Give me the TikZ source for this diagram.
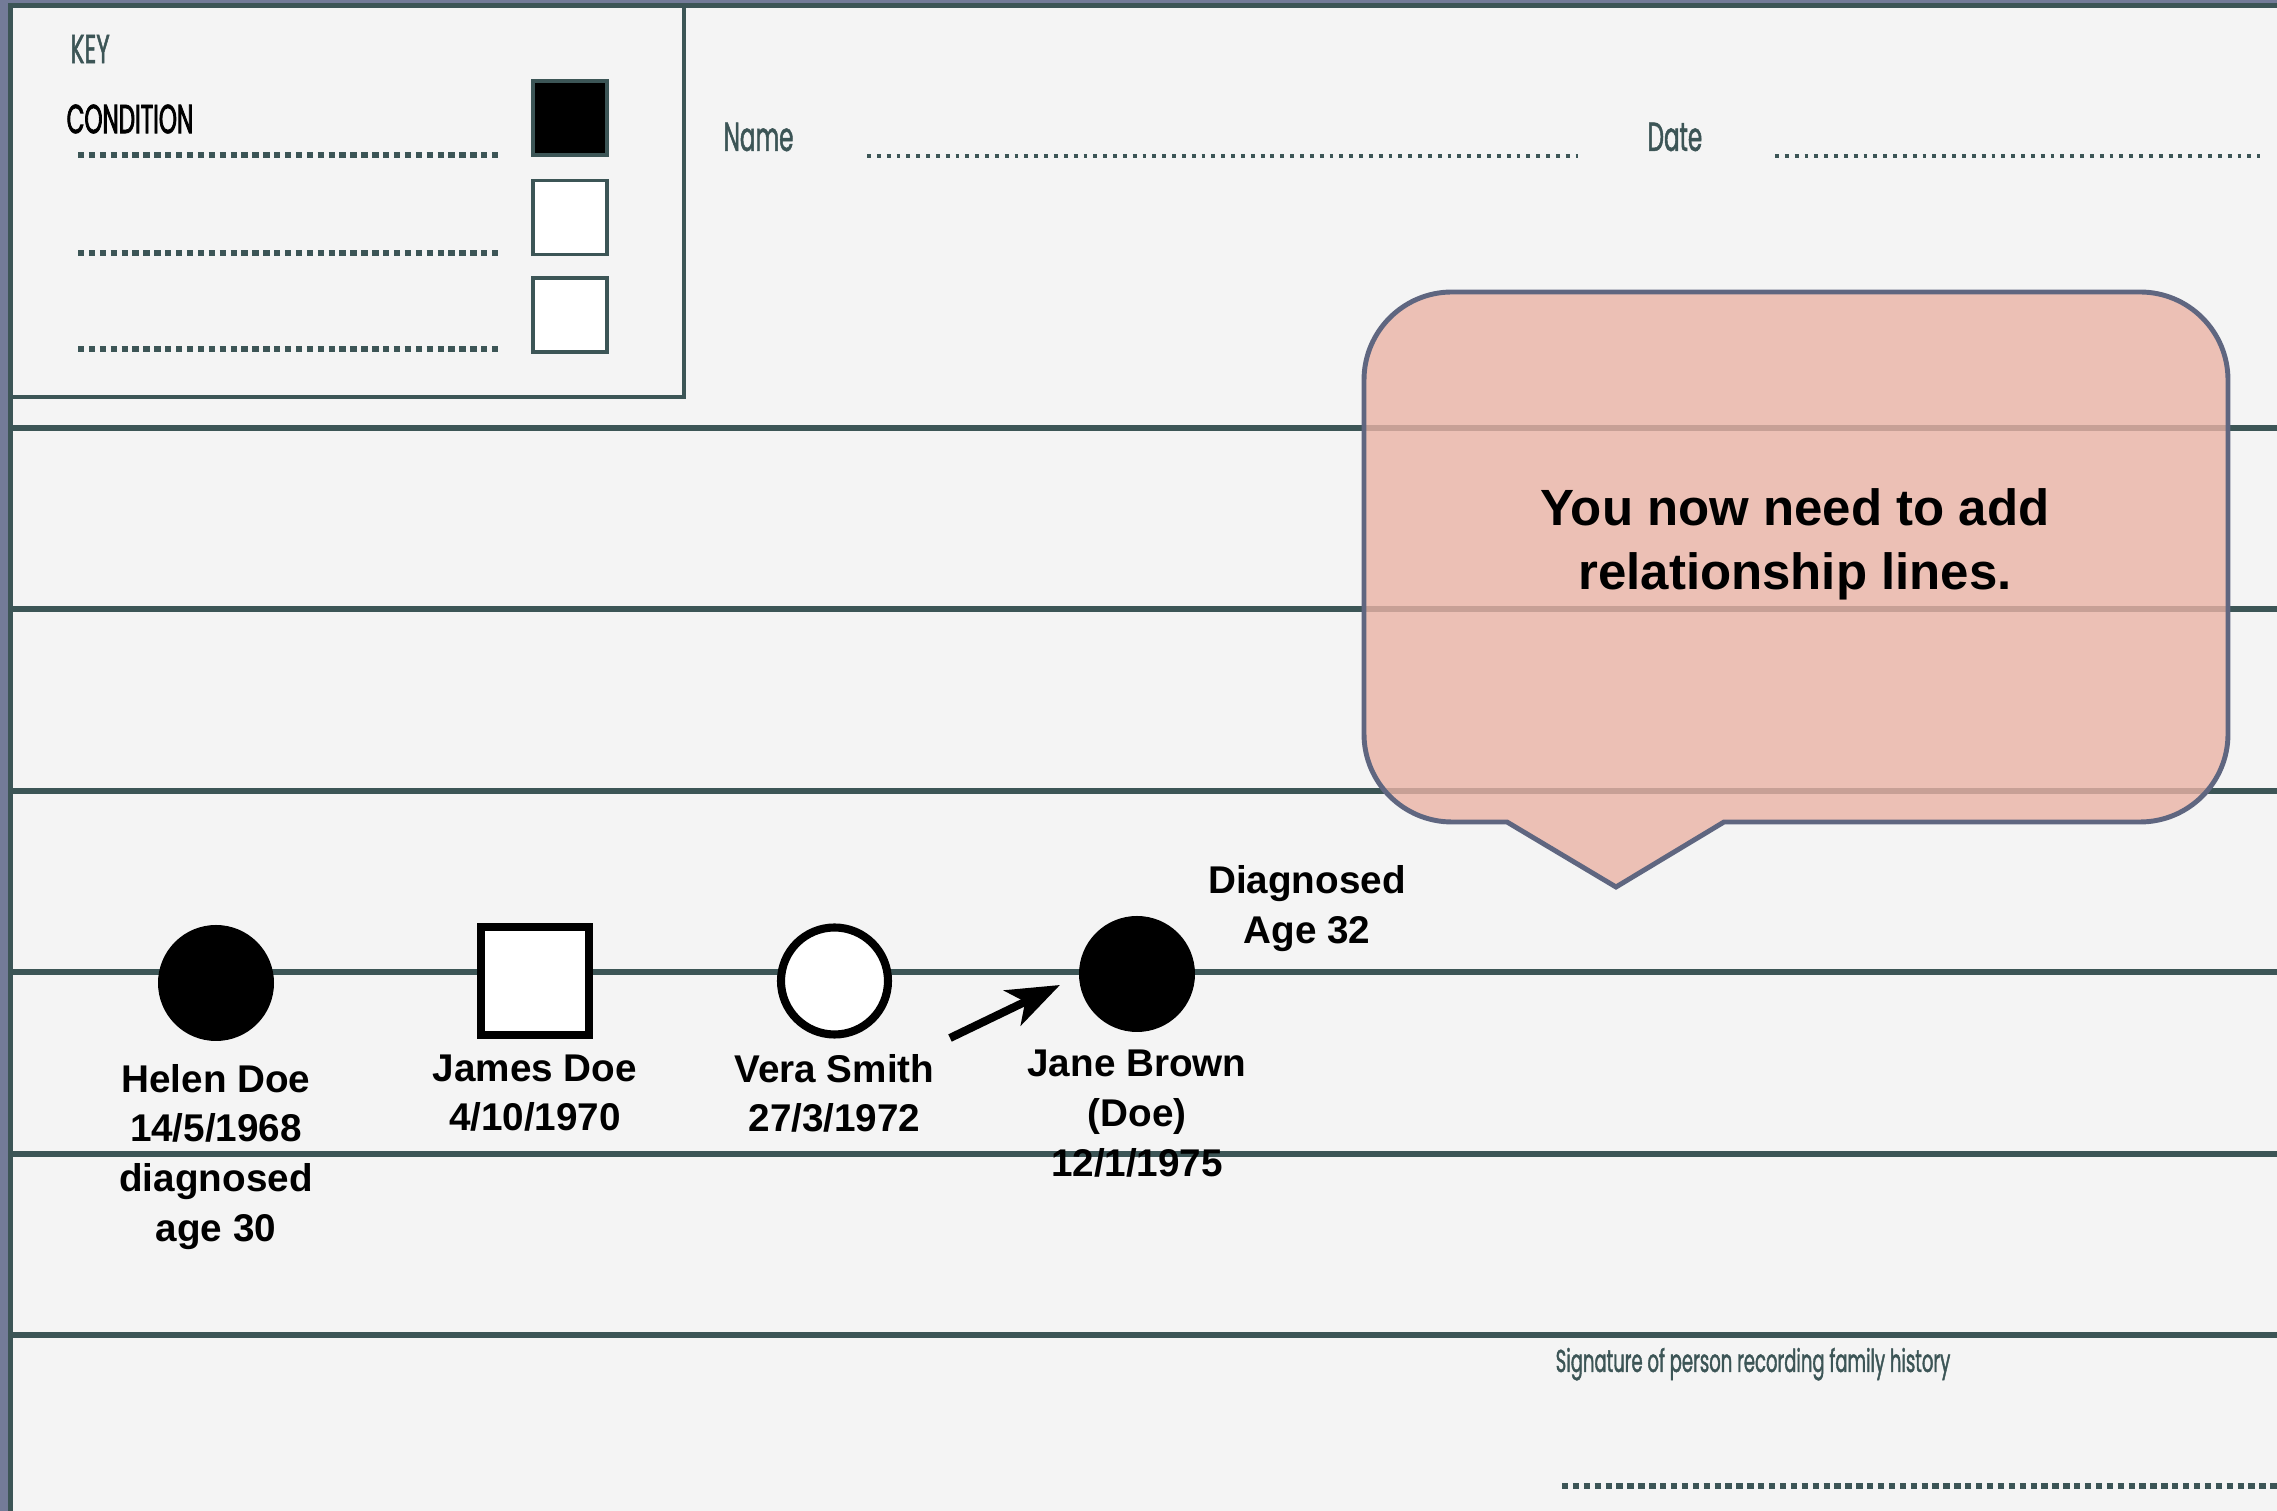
\documentclass[tikz,border=0pt]{standalone}
\usepackage{fontspec}
\setmainfont{Liberation Sans}
\newfontfamily\formfont[FakeStretch=0.57, FakeBold=1.2]{Poppins}
\newfontfamily\condfont[FakeStretch=0.57, FakeBold=2]{Poppins}
\usetikzlibrary{arrows.meta, positioning}

\definecolor{pagebg}{HTML}{F4F4F4}
\definecolor{formteal}{HTML}{3C5556}
\definecolor{edgeblue}{HTML}{737B98}
\definecolor{calloutfill}{HTML}{EAB3A6}
\definecolor{calloutline}{HTML}{5F6680}

\begin{document}
\begin{tikzpicture}[
    ruleline/.style={draw=formteal, line width=1.6pt},
    dotrule/.style={draw=formteal, line width=1.5pt, dash pattern=on 1.8pt off 1.3pt},
    formtext/.style={font=\formfont\fontsize{11.5}{13}\selectfont, text=formteal, inner sep=0pt},
    keysq/.style={rectangle, draw=formteal, line width=1pt, fill=white, minimum size=0.74cm},
    affected/.style={circle, fill=black, minimum size=1.16cm, inner sep=0pt},
    unaffected/.style={circle, draw=black, line width=2.3pt, fill=white, minimum size=1.07cm, inner sep=0pt},
    malebox/.style={rectangle, draw=black, line width=2.3pt, fill=white, minimum size=1.08cm, inner sep=0pt},
    lab/.style={font=\bfseries\fontsize{11}{14.1}\selectfont, align=center, inner sep=0pt},
]
\useasboundingbox (0,0) rectangle (22.77,-15.11);
\fill[pagebg] (0,0) rectangle (22.77,-15.11);

% --- Ruled lines ---
\foreach \y in {4.28, 6.09, 7.91, 9.72, 11.54, 13.35}
    \draw[ruleline] (0.1,-\y) -- (22.77,-\y);

% --- Key box ---
\draw[formteal, line width=1pt] (0.1,-0.05) rectangle (6.84,-3.97);
\node[formtext, anchor=west] (keytitle) at (0.70,-0.49) {KEY};
\node[formtext, font=\condfont\fontsize{11.5}{13}\selectfont, text=black, anchor=west] (condition) at (0.66,-1.19) {CONDITION};
\node[keysq, fill=black] (keyone) at (5.70,-1.18) {};
\node[keysq] (keytwo) at (5.70,-2.175) {};
\node[keysq] (keythree) at (5.70,-3.15) {};
\foreach \y in {1.55, 2.53, 3.49}
    \draw[dotrule] (0.78,-\y) -- (5.01,-\y);

% --- Name and date ---
\node[formtext, anchor=west] (namelab) at (7.23,-1.37) {Name};
\draw[dotrule, line width=1.2pt, dash pattern=on 1.1pt off 1.7pt] (8.67,-1.56) -- (15.78,-1.56);
\node[formtext, anchor=west] (datelab) at (16.47,-1.37) {Date};
\draw[dotrule, line width=1.2pt, dash pattern=on 1.1pt off 1.7pt] (17.75,-1.56) -- (22.60,-1.56);

% --- Callout ---
\path[draw=calloutline, line width=1.4pt, fill=calloutfill, fill opacity=0.8]
    (17.24,-8.22) -- (21.40,-8.22) arc[start angle=270, end angle=360, radius=0.88]
    -- (22.28,-3.80) arc[start angle=0, end angle=90, radius=0.88]
    -- (14.52,-2.92) arc[start angle=90, end angle=180, radius=0.88]
    -- (13.64,-7.34) arc[start angle=180, end angle=270, radius=0.88]
    -- (15.07,-8.22) -- (16.16,-8.87) -- cycle;
\node[lab, font=\bfseries\fontsize{14.5}{18.2}\selectfont] (hint) at (17.95,-5.44)
    {You now need to add\\relationship lines.};

% --- Family members ---
\node[affected] (helen) at (2.16,-9.83) {};
\node[malebox] (james) at (5.35,-9.81) {};
\node[unaffected] (vera) at (8.345,-9.81) {};
\node[affected] (jane) at (11.37,-9.74) {};

\node[lab, below=0.22cm of helen] (helenlab) {Helen Doe\\14/5/1968\\diagnosed\\age 30};
\node[lab, below=0.15cm of james] (jameslab) {James Doe\\4/10/1970};
\node[lab, below=0.15cm of vera] (veralab) {Vera Smith\\27/3/1972};
\node[lab, below=0.17cm of jane] (janelab) {Jane Brown\\(Doe)\\12/1/1975};
\node[lab, anchor=north] (diaglab) at (13.07,-8.65) {Diagnosed\\Age 32};

% --- Proband arrow ---
\coordinate (ptail) at (9.50,-10.38);
\coordinate (ptip) at (10.60,-9.85);
\draw[-{Stealth[length=15pt, width=11pt, inset=4pt]}, line width=2.3pt] (ptail) -- (ptip);

% --- Signature ---
\node[formtext, font=\formfont\fontsize{9}{11}\selectfont, anchor=base west] (signlab) at (15.55,-13.72)
    {Signature of person recording family history};
\draw[dotrule] (15.62,-14.86) -- (22.77,-14.86);

% --- Page edges ---
\fill[edgeblue] (0,0) rectangle (22.77,-0.03);
\fill[formteal] (0,-0.03) rectangle (22.77,-0.08);
\fill[edgeblue] (0,0) rectangle (0.08,-15.11);
\fill[formteal] (0.08,-0.03) rectangle (0.13,-15.11);

\end{tikzpicture}
\end{document}
